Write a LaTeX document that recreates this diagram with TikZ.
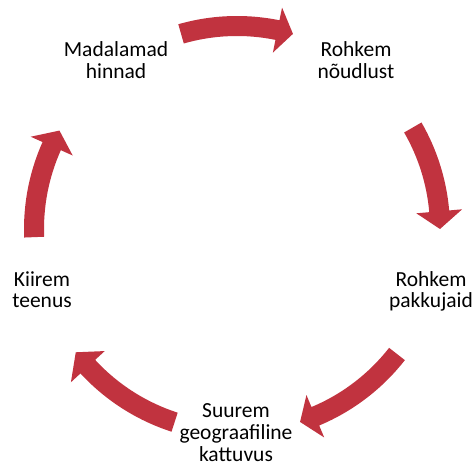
\documentclass[tikz,border=0pt]{standalone}
\usepackage{fontspec}
\setmainfont{Carlito}
\definecolor{arrowred}{RGB}{193,51,63}
\newcommand\cyclearrow[3]{%
  \fill[arrowred] (#1:213pt) arc[start angle=#1,end angle=#2,radius=213pt]
    -- (#2:226pt) -- (#3:203pt) -- (#2:180pt) -- (#2:193pt)
    arc[start angle=#2,end angle=#1,radius=193pt] -- cycle;}
\begin{document}
\begin{tikzpicture}[x=1pt,y=1pt,
  lbl/.style={align=center,anchor=base,inner sep=0pt,font=\fontsize{21.5}{22}\selectfont,text=black}]
\useasboundingbox (-237,-236) rectangle (236,229);
\cyclearrow{106}{78.5}{74}
\cyclearrow{30}{5}{0}
\cyclearrow{-38}{-67.3}{-71.9}
\cyclearrow{-107.9}{-137.3}{-142.6}
\cyclearrow{182.3}{155.9}{151}
\node[lbl] (n1) at (119,150) {Rohkem\\nõudlust};
\node[lbl] (n2) at (194,-79) {Rohkem\\pakkujaid};
\node[lbl] (n3) at (-1,-232) {Suurem\\geograafiline\\kattuvus};
\node[lbl] (n4) at (-195,-79) {Kiirem\\teenus};
\node[lbl] (n5) at (-121,150) {Madalamad\\hinnad};
\end{tikzpicture}
\end{document}
